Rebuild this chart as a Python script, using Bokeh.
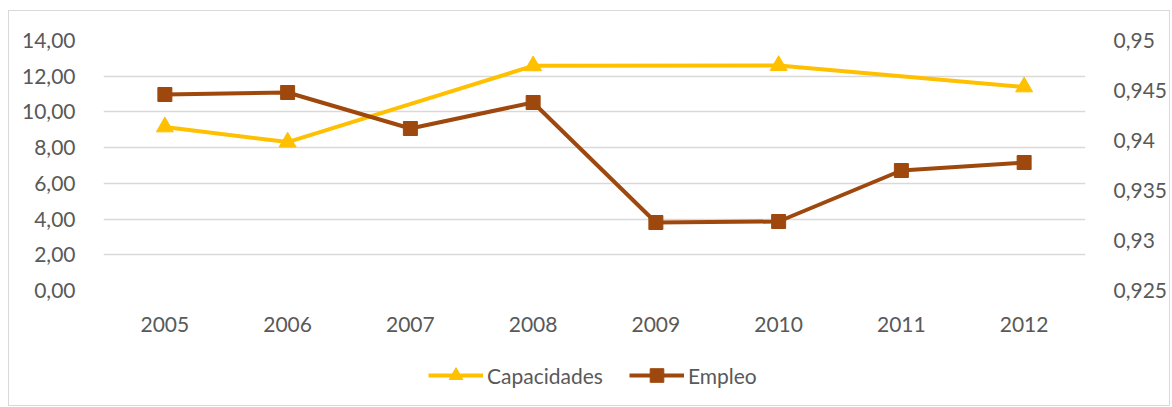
from bokeh.plotting import figure
from bokeh.layouts import column
from bokeh.models import Range1d, LinearAxis, FixedTicker, Legend, LegendItem, FactorRange
from bokeh.embed import file_html
from bokeh.resources import INLINE

years = ["2005", "2006", "2007", "2008", "2009", "2010", "2011", "2012"]
cap_years = ["2005", "2006", "2008", "2010", "2012"]
capacidades = [9.16, 8.31, 12.58, 12.60, 11.40]
empleo = [0.9446, 0.9448, 0.9412, 0.9438, 0.9318, 0.9319, 0.9370, 0.9378]

left_ticks = [0, 2, 4, 6, 8, 10, 12, 14]
left_labels = ["0,00", "2,00", "4,00", "6,00", "8,00", "10,00", "12,00", "14,00"]
right_ticks = [0.925, 0.93, 0.935, 0.94, 0.945, 0.95]
right_labels = ["0,925", "0,93", "0,935", "0,94", "0,945", "0,95"]

YELLOW = "#FFC000"
BROWN = "#9E480E"
GRID = "#D9D9D9"
TEXT = "#595959"
FONT = "Lato"
FS = "21px"

p = figure(width=1160, height=329, x_range=FactorRange(*years), y_range=Range1d(0, 14),
           output_backend="svg", toolbar_location=None,
           min_border_left=94, min_border_right=84, min_border_top=29, min_border_bottom=50)
p.outline_line_color = None
p.extra_y_ranges = {"emp": Range1d(0.925, 0.95)}

p.xgrid.grid_line_color = None
p.ygrid.grid_line_color = GRID
p.ygrid.grid_line_width = 1.3
p.ygrid.ticker = FixedTicker(ticks=left_ticks)

yax = p.yaxis[0]
yax.ticker = FixedTicker(ticks=left_ticks)
yax.major_label_overrides = {t: l for t, l in zip(left_ticks, left_labels)}

rax = LinearAxis(y_range_name="emp", ticker=FixedTicker(ticks=right_ticks))
rax.major_label_overrides = {t: l for t, l in zip(right_ticks, right_labels)}
p.add_layout(rax, "right")

for ax in [p.xaxis[0], yax, rax]:
    ax.axis_line_color = None
    ax.major_tick_line_color = None
    ax.minor_tick_line_color = None
    ax.major_label_text_font = FONT
    ax.major_label_text_font_size = FS
    ax.major_label_text_color = TEXT
    ax.major_label_standoff = 22
p.xaxis[0].major_label_standoff = 20

p.line(cap_years, capacidades, line_color=YELLOW, line_width=4)
p.scatter(cap_years, capacidades, marker="triangle", size=17, fill_color=YELLOW, line_color=YELLOW)
p.line(years, empleo, line_color=BROWN, line_width=4, y_range_name="emp")
p.scatter(years, empleo, marker="square", size=14, fill_color=BROWN, line_color=BROWN, y_range_name="emp")

# legend-only strip below the chart (its renderers hold one point outside the visible range)
lf = figure(width=1160, height=65, x_range=Range1d(0, 1), y_range=Range1d(0, 1),
            output_backend="svg", toolbar_location=None,
            x_axis_location=None, y_axis_location=None,
            min_border_left=0, min_border_right=0, min_border_top=0, min_border_bottom=0)
lf.grid.visible = False
lf.outline_line_color = None
ll1 = lf.line([5, 6], [5, 6], line_color=YELLOW, line_width=4)
ls1 = lf.scatter([5], [5], marker="triangle", size=13, fill_color=YELLOW, line_color=YELLOW)
ll2 = lf.line([5, 6], [5, 6], line_color=BROWN, line_width=4)
ls2 = lf.scatter([5], [5], marker="square", size=13, fill_color=BROWN, line_color=BROWN)

legend = Legend(items=[LegendItem(label="Capacidades", renderers=[ll1, ls1]),
                       LegendItem(label="Empleo", renderers=[ll2, ls2])],
                orientation="horizontal", location=(325, 13),
                glyph_width=55, glyph_height=34, label_standoff=4, spacing=26,
                label_text_font=FONT, label_text_font_size=FS, label_text_color=TEXT,
                border_line_color=None, background_fill_alpha=0, margin=0, padding=0)
lf.add_layout(legend, "center")

layout = column(p, lf, spacing=0)
layout.margin = (10, 0, 0, 8)
layout.styles = {"border": "1px solid #D9D9D9"}

open("out.html", "w").write(file_html(layout, INLINE))
